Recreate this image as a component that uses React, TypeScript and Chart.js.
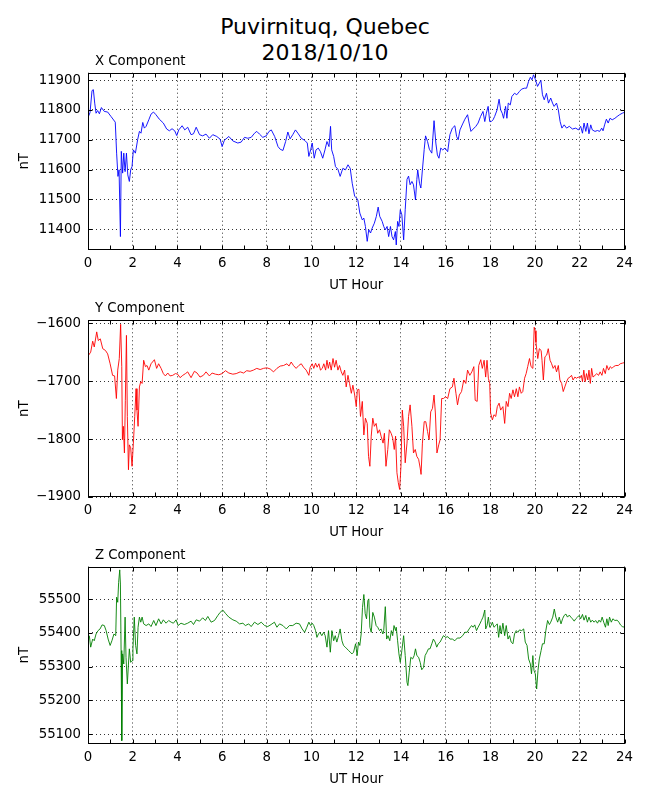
import { useEffect, useRef } from "react";
import { Chart, registerables, ChartConfiguration, Plugin } from "chart.js";

Chart.register(...registerables);
Chart.defaults.font.family = '"DejaVu Sans", sans-serif';
Chart.defaults.color = "#000";

// even hours get a label and a grid line, every hour gets a small tick
const hourLabels = [0, 2, 4, 6, 8, 10, 12, 14, 16, 18, 20, 22, 24];
const hourMarks = [0, 1, 2, 3, 4, 5, 6, 7, 8, 9, 10, 11, 12, 13, 14, 15, 16, 17, 18, 19, 20, 21, 22, 23, 24];

const xTicks = [11400, 11500, 11600, 11700, 11800, 11900];
const yTicks = [-1900, -1800, -1700, -1600];
const zTicks = [55100, 55200, 55300, 55400, 55500];

// [UT hour, nT]
const xComponent: [number, number][] = [
  [0.03, 11780], [0.09, 11791], [0.18, 11865], [0.24, 11868], [0.3, 11823], [0.36, 11789], [0.43, 11798], [0.51, 11787],
  [0.6, 11808], [0.73, 11795], [0.88, 11793], [1.03, 11778], [1.22, 11759], [1.28, 11655], [1.34, 11577], [1.39, 11599],
  [1.45, 11375], [1.49, 11661], [1.55, 11588], [1.6, 11655], [1.66, 11593], [1.72, 11655], [1.78, 11582], [1.85, 11560],
  [1.91, 11599], [1.97, 11610], [2.03, 11666], [2.12, 11655], [2.22, 11700], [2.3, 11728], [2.37, 11722], [2.45, 11758],
  [2.52, 11739], [2.6, 11745], [2.72, 11767], [2.82, 11786], [2.93, 11793], [3.04, 11784], [3.19, 11769], [3.37, 11756],
  [3.52, 11736], [3.64, 11730], [3.76, 11737], [3.88, 11730], [3.97, 11714], [4.06, 11733], [4.21, 11747], [4.33, 11733],
  [4.46, 11742], [4.61, 11717], [4.72, 11720], [4.84, 11742], [4.99, 11717], [5.13, 11713], [5.28, 11719], [5.43, 11705],
  [5.58, 11717], [5.76, 11711], [5.91, 11702], [6.0, 11677], [6.1, 11698], [6.3, 11711], [6.48, 11696], [6.7, 11689],
  [6.85, 11692], [7.0, 11708], [7.15, 11705], [7.3, 11708], [7.45, 11722], [7.55, 11728], [7.67, 11719], [7.82, 11708],
  [7.97, 11713], [8.1, 11728], [8.2, 11733], [8.35, 11711], [8.5, 11677], [8.6, 11668], [8.72, 11664], [8.84, 11694],
  [8.94, 11726], [9.04, 11703], [9.16, 11717], [9.28, 11733], [9.39, 11722], [9.54, 11705], [9.69, 11698], [9.81, 11689],
  [9.88, 11644], [9.96, 11666], [10.03, 11689], [10.12, 11638], [10.2, 11666], [10.3, 11672], [10.4, 11660], [10.5, 11638],
  [10.6, 11666], [10.69, 11694], [10.78, 11677], [10.85, 11745], [10.9, 11666], [10.99, 11644], [11.07, 11610], [11.18, 11601],
  [11.28, 11577], [11.4, 11604], [11.52, 11599], [11.63, 11616], [11.73, 11604], [11.82, 11554], [11.93, 11510], [12.02, 11504],
  [12.07, 11498], [12.16, 11454], [12.27, 11431], [12.34, 11437], [12.41, 11409], [12.49, 11359], [12.56, 11398], [12.64, 11387],
  [12.71, 11403], [12.81, 11420], [12.9, 11443], [12.98, 11474], [13.05, 11443], [13.16, 11426], [13.23, 11409], [13.3, 11398],
  [13.38, 11409], [13.45, 11375], [13.53, 11409], [13.6, 11375], [13.67, 11364], [13.75, 11392], [13.79, 11347], [13.85, 11426],
  [13.91, 11409], [13.97, 11465], [14.04, 11448], [14.12, 11364], [14.19, 11465], [14.27, 11567], [14.34, 11578], [14.41, 11549],
  [14.49, 11560], [14.56, 11549], [14.65, 11498], [14.71, 11567], [14.75, 11599], [14.83, 11554], [14.89, 11538], [14.96, 11599],
  [15.04, 11668], [15.1, 11713], [15.19, 11694], [15.27, 11668], [15.38, 11655], [15.48, 11764], [15.56, 11689], [15.63, 11649],
  [15.7, 11638], [15.78, 11672], [15.87, 11666], [15.97, 11672], [16.09, 11660], [16.19, 11717], [16.3, 11739], [16.41, 11747],
  [16.49, 11711], [16.56, 11700], [16.64, 11733], [16.76, 11753], [16.86, 11769], [16.98, 11784], [17.05, 11756], [17.13, 11728],
  [17.23, 11736], [17.35, 11745], [17.45, 11756], [17.56, 11778], [17.67, 11795], [17.75, 11761], [17.82, 11789], [17.9, 11812],
  [17.97, 11761], [18.04, 11761], [18.12, 11767], [18.19, 11778], [18.3, 11800], [18.39, 11836], [18.46, 11800], [18.53, 11789],
  [18.59, 11772], [18.68, 11812], [18.74, 11772], [18.8, 11823], [18.89, 11817], [18.96, 11845], [19.08, 11856], [19.18, 11851],
  [19.3, 11862], [19.4, 11870], [19.52, 11873], [19.62, 11873], [19.71, 11896], [19.79, 11910], [19.86, 11901], [19.93, 11918],
  [20.01, 11903], [20.11, 11879], [20.19, 11890], [20.26, 11899], [20.33, 11851], [20.41, 11834], [20.51, 11856], [20.6, 11823],
  [20.7, 11840], [20.78, 11823], [20.85, 11812], [20.96, 11823], [21.04, 11800], [21.12, 11761], [21.2, 11739], [21.3, 11750],
  [21.41, 11739], [21.53, 11745], [21.67, 11736], [21.82, 11739], [21.94, 11733], [22.04, 11745], [22.12, 11722], [22.19, 11756],
  [22.27, 11728], [22.34, 11756], [22.41, 11720], [22.49, 11750], [22.56, 11733], [22.68, 11728], [22.79, 11731], [22.89, 11728],
  [22.98, 11739], [23.04, 11730], [23.11, 11750], [23.19, 11769], [23.27, 11756], [23.35, 11772], [23.45, 11767], [23.57, 11772],
  [23.67, 11778], [23.78, 11784], [23.9, 11789], [24.0, 11792],
];

const yComponent: [number, number][] = [
  [0.03, -1655], [0.12, -1650], [0.21, -1631], [0.28, -1641], [0.39, -1615], [0.46, -1630], [0.55, -1627], [0.66, -1644],
  [0.78, -1647], [0.88, -1653], [0.99, -1670], [1.1, -1690], [1.19, -1691], [1.27, -1730], [1.33, -1681], [1.4, -1661],
  [1.46, -1602], [1.51, -1675], [1.54, -1801], [1.58, -1778], [1.63, -1824], [1.67, -1733], [1.72, -1621], [1.76, -1761],
  [1.81, -1853], [1.85, -1810], [1.91, -1815], [1.97, -1847], [2.03, -1807], [2.09, -1761], [2.15, -1713], [2.19, -1750],
  [2.24, -1778], [2.3, -1710], [2.36, -1701], [2.42, -1704], [2.49, -1664], [2.57, -1675], [2.64, -1673], [2.72, -1681],
  [2.82, -1670], [2.97, -1663], [3.07, -1678], [3.16, -1670], [3.27, -1678], [3.37, -1687], [3.46, -1691], [3.57, -1686],
  [3.67, -1691], [3.79, -1690], [3.91, -1687], [4.01, -1688], [4.12, -1694], [4.24, -1690], [4.36, -1687], [4.46, -1684],
  [4.61, -1694], [4.76, -1683], [4.88, -1686], [5.01, -1693], [5.16, -1690], [5.28, -1684], [5.43, -1691], [5.55, -1686],
  [5.7, -1688], [5.85, -1689], [6.0, -1687], [6.15, -1682], [6.3, -1686], [6.48, -1688], [6.63, -1687], [6.81, -1684],
  [6.96, -1686], [7.1, -1682], [7.25, -1683], [7.4, -1681], [7.55, -1678], [7.7, -1680], [7.85, -1678], [8.0, -1677],
  [8.15, -1679], [8.3, -1684], [8.45, -1678], [8.6, -1674], [8.75, -1673], [8.9, -1670], [8.99, -1674], [9.09, -1667],
  [9.19, -1673], [9.31, -1678], [9.43, -1673], [9.54, -1670], [9.64, -1676], [9.76, -1681], [9.88, -1690], [9.94, -1676],
  [10.03, -1670], [10.1, -1678], [10.18, -1669], [10.25, -1676], [10.33, -1670], [10.4, -1681], [10.48, -1678], [10.55, -1670],
  [10.63, -1681], [10.69, -1664], [10.75, -1678], [10.81, -1667], [10.88, -1681], [10.96, -1661], [11.03, -1676], [11.1, -1664],
  [11.18, -1681], [11.25, -1673], [11.33, -1684], [11.4, -1690], [11.48, -1681], [11.55, -1710], [11.63, -1690], [11.7, -1704],
  [11.78, -1721], [11.85, -1707], [11.93, -1724], [12.0, -1744], [12.05, -1715], [12.12, -1714], [12.19, -1761], [12.27, -1735],
  [12.34, -1793], [12.41, -1764], [12.49, -1773], [12.55, -1830], [12.61, -1847], [12.67, -1795], [12.74, -1764], [12.81, -1778],
  [12.89, -1773], [12.96, -1790], [13.04, -1784], [13.11, -1795], [13.2, -1807], [13.26, -1790], [13.33, -1847], [13.41, -1818],
  [13.48, -1784], [13.56, -1790], [13.63, -1798], [13.7, -1818], [13.76, -1795], [13.82, -1858], [13.88, -1875], [13.94, -1887],
  [14.0, -1847], [14.06, -1750], [14.12, -1778], [14.19, -1841], [14.27, -1807], [14.34, -1761], [14.41, -1741], [14.49, -1778],
  [14.56, -1824], [14.64, -1818], [14.71, -1830], [14.79, -1835], [14.86, -1850], [14.9, -1861], [14.96, -1807], [15.04, -1770],
  [15.11, -1770], [15.19, -1787], [15.26, -1801], [15.33, -1753], [15.41, -1747], [15.48, -1724], [15.54, -1755], [15.61, -1824],
  [15.69, -1810], [15.75, -1801], [15.82, -1730], [15.9, -1730], [16.0, -1727], [16.09, -1730], [16.19, -1713], [16.3, -1710],
  [16.37, -1695], [16.46, -1721], [16.53, -1741], [16.61, -1724], [16.71, -1718], [16.81, -1698], [16.9, -1704], [16.98, -1681],
  [17.08, -1690], [17.17, -1684], [17.26, -1675], [17.32, -1733], [17.41, -1735], [17.48, -1673], [17.57, -1663], [17.64, -1678],
  [17.72, -1664], [17.79, -1693], [17.85, -1664], [17.91, -1695], [17.97, -1704], [18.01, -1755], [18.09, -1767], [18.16, -1758],
  [18.24, -1761], [18.31, -1744], [18.39, -1738], [18.46, -1750], [18.56, -1744], [18.64, -1773], [18.71, -1735], [18.79, -1744],
  [18.86, -1721], [18.93, -1730], [19.01, -1715], [19.08, -1727], [19.16, -1713], [19.23, -1727], [19.3, -1710], [19.38, -1721],
  [19.45, -1718], [19.53, -1695], [19.6, -1687], [19.67, -1675], [19.75, -1661], [19.82, -1675], [19.9, -1678], [19.96, -1607],
  [20.0, -1613], [20.04, -1633], [20.12, -1661], [20.19, -1644], [20.27, -1647], [20.31, -1664], [20.37, -1698], [20.44, -1658],
  [20.52, -1655], [20.59, -1644], [20.67, -1664], [20.74, -1670], [20.81, -1678], [20.89, -1673], [20.96, -1684], [21.04, -1673],
  [21.11, -1698], [21.19, -1704], [21.26, -1718], [21.33, -1710], [21.41, -1701], [21.48, -1695], [21.56, -1693], [21.63, -1690],
  [21.7, -1698], [21.78, -1693], [21.85, -1695], [21.93, -1693], [22.0, -1695], [22.07, -1690], [22.12, -1701], [22.18, -1681],
  [22.24, -1701], [22.3, -1687], [22.36, -1698], [22.41, -1681], [22.47, -1704], [22.53, -1678], [22.59, -1693], [22.68, -1690],
  [22.76, -1687], [22.84, -1690], [22.91, -1684], [22.99, -1690], [23.06, -1678], [23.14, -1687], [23.21, -1673], [23.29, -1681],
  [23.36, -1675], [23.44, -1678], [23.51, -1675], [23.61, -1673], [23.72, -1673], [23.81, -1670], [23.9, -1669], [24.0, -1668],
];

const zComponent: [number, number][] = [
  [0.06, 55392], [0.12, 55358], [0.21, 55382], [0.28, 55377], [0.36, 55397], [0.45, 55407], [0.54, 55412], [0.63, 55424],
  [0.73, 55422], [0.81, 55407], [0.9, 55382], [0.99, 55363], [1.07, 55377], [1.16, 55397], [1.24, 55392], [1.28, 55506],
  [1.33, 55491], [1.37, 55550], [1.42, 55587], [1.45, 55545], [1.48, 55348], [1.51, 55081], [1.55, 55338], [1.6, 55308],
  [1.66, 55447], [1.7, 55328], [1.76, 55249], [1.81, 55308], [1.85, 55353], [1.91, 55313], [1.97, 55318], [2.01, 55353],
  [2.07, 55447], [2.13, 55363], [2.19, 55338], [2.24, 55417], [2.3, 55447], [2.36, 55432], [2.42, 55447], [2.49, 55427],
  [2.6, 55422], [2.72, 55427], [2.82, 55419], [2.94, 55437], [3.04, 55422], [3.16, 55442], [3.27, 55427], [3.37, 55439],
  [3.49, 55429], [3.61, 55437], [3.72, 55432], [3.82, 55429], [3.94, 55439], [4.03, 55422], [4.16, 55429], [4.31, 55425],
  [4.46, 55429], [4.61, 55435], [4.72, 55425], [4.84, 55439], [4.99, 55435], [5.13, 55445], [5.25, 55437], [5.36, 55449],
  [5.51, 55432], [5.66, 55437], [5.81, 55452], [5.91, 55461], [6.03, 55468], [6.15, 55458], [6.3, 55447], [6.48, 55439],
  [6.63, 55435], [6.78, 55427], [6.93, 55429], [7.04, 55422], [7.19, 55427], [7.3, 55419], [7.45, 55432], [7.6, 55425],
  [7.75, 55432], [7.9, 55422], [8.04, 55419], [8.19, 55425], [8.34, 55432], [8.45, 55417], [8.57, 55427], [8.72, 55422],
  [8.87, 55412], [9.01, 55422], [9.16, 55422], [9.31, 55429], [9.46, 55427], [9.58, 55412], [9.69, 55402], [9.79, 55417],
  [9.88, 55432], [9.96, 55422], [10.03, 55429], [10.1, 55422], [10.18, 55407], [10.24, 55387], [10.31, 55397], [10.37, 55402],
  [10.46, 55392], [10.54, 55402], [10.61, 55392], [10.69, 55358], [10.76, 55407], [10.84, 55343], [10.91, 55407], [10.99, 55377],
  [11.06, 55392], [11.13, 55373], [11.21, 55392], [11.28, 55412], [11.36, 55377], [11.43, 55363], [11.51, 55358], [11.58, 55353],
  [11.66, 55348], [11.73, 55343], [11.81, 55338], [11.88, 55343], [11.97, 55368], [12.04, 55333], [12.1, 55373], [12.16, 55363],
  [12.22, 55397], [12.28, 55476], [12.34, 55514], [12.4, 55457], [12.46, 55442], [12.52, 55496], [12.56, 55501], [12.61, 55417],
  [12.67, 55402], [12.74, 55461], [12.81, 55447], [12.89, 55422], [12.96, 55417], [13.04, 55407], [13.11, 55412], [13.19, 55397],
  [13.23, 55407], [13.3, 55478], [13.36, 55382], [13.42, 55392], [13.5, 55377], [13.57, 55407], [13.63, 55392], [13.69, 55422],
  [13.76, 55407], [13.79, 55417], [13.85, 55377], [13.91, 55338], [13.97, 55313], [14.04, 55348], [14.12, 55392], [14.19, 55333],
  [14.27, 55254], [14.31, 55244], [14.37, 55284], [14.44, 55328], [14.52, 55323], [14.59, 55333], [14.65, 55353], [14.71, 55333],
  [14.79, 55328], [14.86, 55313], [14.93, 55291], [15.01, 55298], [15.08, 55333], [15.16, 55343], [15.23, 55353], [15.3, 55353],
  [15.38, 55368], [15.45, 55382], [15.53, 55373], [15.6, 55358], [15.67, 55368], [15.75, 55373], [15.82, 55382], [15.9, 55392],
  [16.0, 55387], [16.1, 55389], [16.19, 55382], [16.3, 55382], [16.41, 55377], [16.52, 55385], [16.64, 55385], [16.76, 55392],
  [16.86, 55402], [16.96, 55402], [17.05, 55412], [17.16, 55422], [17.23, 55417], [17.3, 55424], [17.38, 55407], [17.45, 55417],
  [17.53, 55427], [17.6, 55437], [17.67, 55447], [17.75, 55468], [17.79, 55412], [17.85, 55422], [17.91, 55447], [17.97, 55417],
  [18.03, 55422], [18.09, 55432], [18.16, 55417], [18.24, 55422], [18.31, 55427], [18.37, 55387], [18.43, 55422], [18.49, 55397],
  [18.56, 55429], [18.64, 55392], [18.71, 55422], [18.79, 55382], [18.86, 55392], [18.93, 55373], [19.01, 55368], [19.08, 55397],
  [19.16, 55407], [19.23, 55402], [19.3, 55409], [19.4, 55407], [19.49, 55412], [19.56, 55373], [19.64, 55363], [19.71, 55323],
  [19.79, 55308], [19.84, 55279], [19.9, 55333], [19.95, 55289], [20.01, 55279], [20.07, 55234], [20.13, 55289], [20.19, 55323],
  [20.27, 55348], [20.33, 55368], [20.41, 55368], [20.48, 55407], [20.56, 55437], [20.64, 55425], [20.7, 55432], [20.79, 55447],
  [20.86, 55471], [20.93, 55447], [21.01, 55432], [21.08, 55447], [21.16, 55427], [21.23, 55442], [21.3, 55452], [21.38, 55456],
  [21.45, 55447], [21.53, 55453], [21.6, 55447], [21.67, 55442], [21.75, 55435], [21.82, 55442], [21.9, 55447], [21.97, 55452],
  [22.04, 55442], [22.12, 55455], [22.19, 55438], [22.27, 55452], [22.34, 55432], [22.41, 55447], [22.49, 55432], [22.56, 55438],
  [22.64, 55432], [22.71, 55437], [22.79, 55429], [22.86, 55438], [22.93, 55432], [23.0, 55447], [23.07, 55432], [23.15, 55417],
  [23.21, 55442], [23.27, 55422], [23.33, 55447], [23.41, 55432], [23.48, 55442], [23.57, 55437], [23.67, 55438], [23.75, 55432],
  [23.82, 55424], [23.9, 55419], [24.0, 55417],
];

const FONT_SIZE = 13.3;

// box around the axes, inward ticks on all four sides and the small title above
const framePlugin: Plugin<"line"> = {
  id: "frame",
  afterDraw(chart, _args, opts: any) {
    const { ctx, chartArea } = chart;
    const left = Math.round(chartArea.left) + 0.5;
    const right = Math.round(chartArea.right) - 0.5;
    const top = Math.round(chartArea.top) + 0.5;
    const bottom = Math.round(chartArea.bottom) - 0.5;
    const xs = chart.scales.x;
    const ys = chart.scales.y;
    ctx.save();
    ctx.strokeStyle = "#000";
    ctx.lineWidth = 1;
    ctx.beginPath();
    hourMarks.forEach((h) => {
      const px = Math.round(xs.getPixelForValue(h)) + 0.5;
      ctx.moveTo(px, bottom);
      ctx.lineTo(px, bottom - 4);
      ctx.moveTo(px, top);
      ctx.lineTo(px, top + 4);
    });
    (opts.ticks as number[]).forEach((v) => {
      const py = Math.round(ys.getPixelForValue(v)) + 0.5;
      ctx.moveTo(left, py);
      ctx.lineTo(left + 4, py);
      ctx.moveTo(right, py);
      ctx.lineTo(right - 4, py);
    });
    ctx.stroke();
    ctx.strokeRect(left, top, right - left, bottom - top);
    ctx.fillStyle = "#000";
    ctx.font = `${FONT_SIZE}px "DejaVu Sans"`;
    ctx.textAlign = "left";
    ctx.textBaseline = "alphabetic";
    ctx.fillText(opts.title, chartArea.left + 7, chartArea.top - 8);
    ctx.restore();
  },
};

interface PanelProps {
  title: string;
  points: [number, number][];
  color: string;
  yMin: number;
  yMax: number;
  ticks: number[];
  canvasTop: number;
  areaTop: number;
  areaBottom: number;
}

const formatTick = (v: number | string) => String(v).replace("-", "\u2212");

const Panel: React.FC<PanelProps> = ({ title, points, color, yMin, yMax, ticks, canvasTop, areaTop, areaBottom }) => {
  const chartRef = useRef<HTMLCanvasElement>(null);
  const height = Math.round(areaBottom + 50 - canvasTop);

  useEffect(() => {
    if (!chartRef.current) return;

    const config: ChartConfiguration<"line"> = {
      type: "line",
      data: {
        datasets: [{
          data: points.map(([h, v]) => ({ x: h, y: v })),
          borderColor: color,
          borderWidth: 0.9,
          pointRadius: 0,
          tension: 0,
        }],
      },
      options: {
        animation: false,
        responsive: false,
        devicePixelRatio: 1,
        layout: { padding: { top: areaTop - canvasTop, right: 25.5, left: 0, bottom: 0 } },
        plugins: {
          legend: { display: false },
          tooltip: { enabled: false },
          // @ts-ignore custom plugin options
          frame: { title, ticks },
        },
        scales: {
          x: {
            type: "linear",
            min: 0,
            max: 24,
            afterBuildTicks: (s) => { s.ticks = hourLabels.map((value) => ({ value })); },
            afterFit: (s) => { s.height = 50; },
            ticks: { autoSkip: false, maxRotation: 0, padding: 6, color: "#000", font: { size: FONT_SIZE } },
            grid: { color: "#000", lineWidth: 0.8, drawTicks: false },
            border: { display: false, dash: [1, 3] },
            title: { display: true, text: "UT Hour", color: "#000", font: { size: FONT_SIZE }, padding: { top: 0, bottom: 6 } },
          },
          y: {
            type: "linear",
            min: yMin,
            max: yMax,
            afterBuildTicks: (s) => { s.ticks = ticks.map((value) => ({ value })); },
            afterFit: (s) => { s.width = 88; },
            ticks: { padding: 7, color: "#000", font: { size: FONT_SIZE }, callback: (v) => formatTick(v) },
            grid: { color: "#000", lineWidth: 0.8, drawTicks: false },
            border: { display: false, dash: [1, 3] },
            title: { display: true, text: "nT", color: "#000", font: { size: FONT_SIZE }, padding: { top: 17, bottom: 0 } },
          },
        },
      },
      plugins: [framePlugin],
    };

    const chart = new Chart(chartRef.current, config);
    return () => {
      chart.destroy();
    };
  }, [title, points, color, yMin, yMax, ticks, canvasTop, areaTop, areaBottom]);

  return (
    <canvas
      ref={chartRef}
      width={650}
      height={height}
      style={{ position: "absolute", left: 0, top: canvasTop, width: 650, height }}
    />
  );
};

const App: React.FC = () => {
  return (
    <div style={{ position: "absolute", left: 0, top: 0, width: 650, height: 800, background: "#fff" }}>
      <div
        style={{
          position: "absolute",
          left: 0,
          top: 14,
          width: 650,
          textAlign: "center",
          fontFamily: '"DejaVu Sans", sans-serif',
          fontSize: 22,
          lineHeight: "26px",
          color: "#000",
        }}
      >
        Puvirnituq, Quebec
        <br />
        2018/10/10
      </div>
      <Panel title="X Component" points={xComponent} color="#0000ff" yMin={11330} yMax={11925} ticks={xTicks}
        canvasTop={40} areaTop={72.7} areaBottom={250} />
      <Panel title="Y Component" points={yComponent} color="#ff0000" yMin={-1900} yMax={-1595} ticks={yTicks}
        canvasTop={287} areaTop={320.3} areaBottom={497} />
      <Panel title="Z Component" points={zComponent} color="#008000" yMin={55071} yMax={55597} ticks={zTicks}
        canvasTop={533} areaTop={566.5} areaBottom={744} />
    </div>
  );
};

export default App;
